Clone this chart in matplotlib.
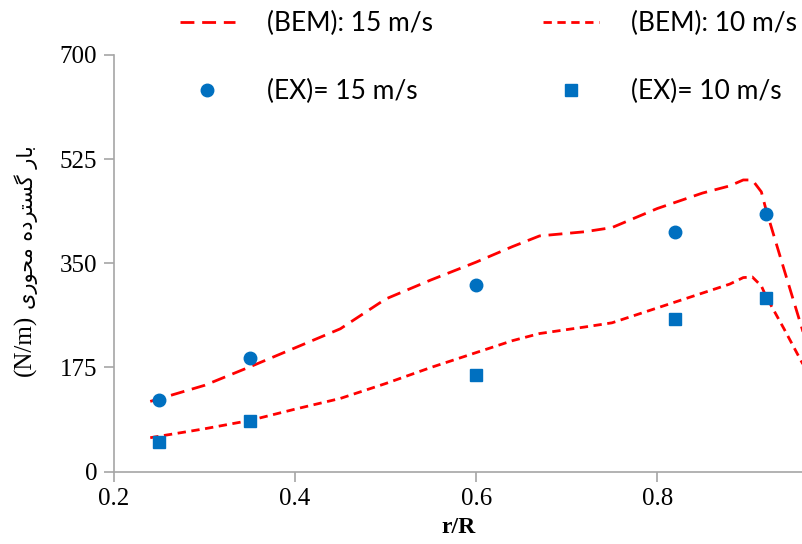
import matplotlib
matplotlib.use("Agg")
import matplotlib.pyplot as plt

# ---- data ----
bem15_x = [0.24, 0.30, 0.35, 0.40, 0.45, 0.50, 0.55, 0.60, 0.64, 0.67, 0.72, 0.75, 0.80, 0.85, 0.88, 0.895, 0.905, 0.915, 0.92, 0.94, 0.96, 0.97]
bem15_y = [118, 145, 176, 208, 240, 290, 322, 352, 378, 396, 403, 410, 442, 468, 480, 490, 490, 470, 441, 340, 240, 190]
bem10_x = [0.24, 0.30, 0.35, 0.40, 0.45, 0.50, 0.55, 0.60, 0.64, 0.67, 0.72, 0.75, 0.80, 0.85, 0.88, 0.895, 0.905, 0.915, 0.92, 0.94, 0.96, 0.97]
bem10_y = [57, 72, 86, 105, 123, 148, 175, 200, 220, 232, 243, 250, 275, 300, 315, 326, 327, 312, 295, 240, 183, 160]
ex_x = [0.25, 0.35, 0.60, 0.82, 0.92]
ex15_y = [121, 191, 313, 402, 433]
ex10_y = [49, 85, 162, 257, 292]
yticks = [0, 175, 350, 525, 700]
xticks = [0.2, 0.4, 0.6, 0.8]

# Persian label, shaped manually (visual LTR order of presentation forms)
persian = ("\uFBFC\uFEAD\uFEEE\uFEA4\uFEE3" + " " +
           "\uFEE9\uFEA9\uFEAE\uFE98\uFEB4\uFB94" + " " +
           "\uFEAD\uFE8E\uFE91")

fig = plt.figure(figsize=(8.03, 5.44), dpi=100)
ax = fig.add_axes([0.142, 0.133, 0.858, 0.766])

red = "#ff0000"
blue = "#0070c0"
ax.plot(bem15_x, bem15_y, color=red, lw=2.0, dashes=(5.0, 2.8), label="(BEM): 15 m/s")
ax.plot(ex_x, ex15_y, "o", color=blue, ms=9, label="(EX)= 15 m/s", ls="none")
ax.plot(bem10_x, bem10_y, color=red, lw=2.0, dashes=(3.0, 2.0), label="(BEM): 10 m/s")
ax.plot(ex_x, ex10_y, "s", color=blue, ms=9, label="(EX)= 10 m/s", ls="none")

ax.set_xlim(0.2, 0.961)
ax.set_ylim(0, 700)
ax.set_xticks(xticks)
ax.set_yticks(yticks)
ax.set_xticklabels([f"{v:.1f}" for v in xticks])
ax.set_yticklabels([str(v) for v in yticks])

for s in ["top", "right"]:
    ax.spines[s].set_visible(False)
for s in ["left", "bottom"]:
    ax.spines[s].set_color("#a6a6a6")
    ax.spines[s].set_linewidth(1.2)
ax.tick_params(axis="both", direction="out", length=7, width=1.2, color="#a6a6a6",
               labelsize=18, pad=5)
for lab in ax.get_xticklabels() + ax.get_yticklabels():
    lab.set_fontfamily("Liberation Serif")

ax.set_xlabel("r/R", fontfamily="Liberation Serif", fontweight="bold", fontsize=17, labelpad=5)

# y label: (N/m) + Persian text
fig.text(0.032, 0.422, "(N/m)", rotation=90, ha="center", va="top",
         fontfamily="Liberation Serif", fontsize=18)
fig.text(0.032, 0.432, persian, rotation=90, ha="center", va="bottom",
         fontfamily="DejaVu Sans", fontsize=15)

leg = fig.legend(loc="upper left", bbox_to_anchor=(0.217, 0.99), ncol=2, frameon=False,
                 prop={"family": "Lato", "size": 19}, handlelength=2.1,
                 handletextpad=1.2, columnspacing=4.2, labelspacing=1.65,
                 borderaxespad=0.0, borderpad=0.2)

fig.savefig("out.png", dpi=100)
